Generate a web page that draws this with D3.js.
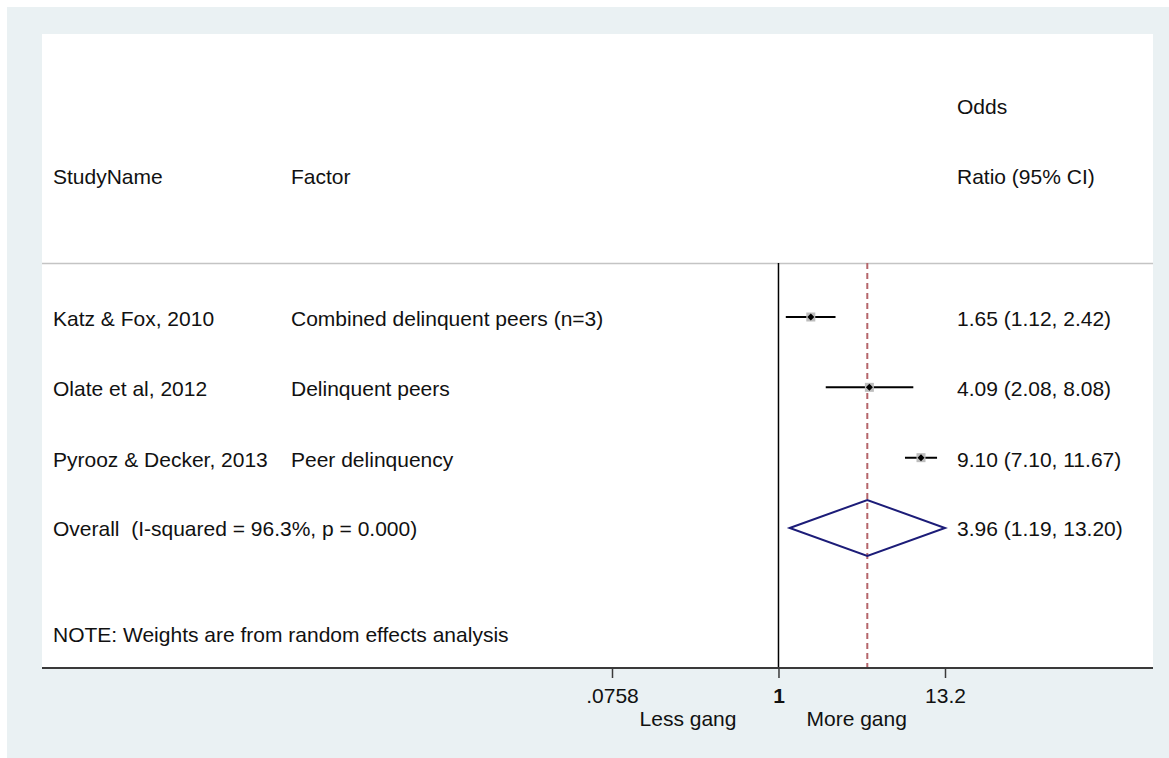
<!DOCTYPE html>
<html><head><meta charset="utf-8">
<script src="https://cdn.jsdelivr.net/npm/d3@7"></script>
<style>
body{margin:0;background:#fff;}
text{font-family:"Liberation Sans",Arial,sans-serif;font-size:21px;fill:#111;white-space:pre;}
</style></head>
<body><svg id="c" width="1169" height="758"></svg>
<script>
const studies = ["Katz & Fox, 2010", "Olate et al, 2012", "Pyrooz & Decker, 2013"];
const factors = ["Combined delinquent peers (n=3)", "Delinquent peers", "Peer delinquency"];
const orVals = [1.65, 4.09, 9.10];
const loVals = [1.12, 2.08, 7.10];
const hiVals = [2.42, 8.08, 11.67];
const overall = {label: "Overall  (I-squared = 96.3%, p = 0.000)", or: 3.96, lo: 1.19, hi: 13.20};
const tickVals = [0.0758, 1, 13.2];
const tickLabels = [".0758", "1", "13.2"];
const note = "NOTE: Weights are from random effects analysis";

const svg = d3.select("#c");
const W = 1169, H = 758;
svg.append("rect").attr("x",7).attr("y",7).attr("width",W-7).attr("height",H-7).attr("fill","#eaf1f3");
const pl = 42, pr = 1153, pt = 34, pb = 668;
svg.append("rect").attr("x",pl).attr("y",pt).attr("width",pr-pl).attr("height",pb-pt).attr("fill","#fff");

const x = d3.scaleLog().domain([0.0758, 13.2]).range([612, 945]);
const rowY = d3.scalePoint().domain([0,1,2,3]).range([317, 528]);

// header
const colStudy = 53, colFactor = 291, colRight = 957;
svg.append("text").attr("x",colStudy).attr("y",184).text("StudyName");
svg.append("text").attr("x",colFactor).attr("y",184).text("Factor");
svg.append("text").attr("x",colRight).attr("y",114).text("Odds");
svg.append("text").attr("x",colRight).attr("y",184).text("Ratio (95% CI)");

// separator
svg.append("line").attr("x1",pl).attr("x2",pr).attr("y1",263.5).attr("y2",263.5).attr("stroke","#c4c4c4").attr("stroke-width",1.5);

// null line
svg.append("line").attr("x1",x(1)).attr("x2",x(1)).attr("y1",263).attr("y2",pb).attr("stroke","#000").attr("stroke-width",1.5);
// overall dashed line
svg.append("line").attr("x1",x(overall.or)).attr("x2",x(overall.or)).attr("y1",263).attr("y2",pb)
  .attr("stroke","#b5666b").attr("stroke-width",2).attr("stroke-dasharray","6,4");

const fmt = d3.format(".2f");
studies.forEach((s,i)=>{
  const y = rowY(i);
  svg.append("text").attr("x",colStudy).attr("y",y+9).text(s);
  svg.append("text").attr("x",colFactor).attr("y",y+9).text(factors[i]);
  svg.append("text").attr("x",colRight).attr("y",y+9).text(`${fmt(orVals[i])} (${fmt(loVals[i])}, ${fmt(hiVals[i])})`);
  svg.append("line").attr("x1",x(loVals[i])).attr("x2",x(hiVals[i])).attr("y1",y).attr("y2",y).attr("stroke","#000").attr("stroke-width",2);
  const cx = x(orVals[i]);
  svg.append("rect").attr("x",cx-4.5).attr("y",y-4.5).attr("width",9).attr("height",9).attr("fill","#bdbdbd");
  svg.append("path").attr("d",`M${cx-3.5},${y}L${cx},${y-3.5}L${cx+3.5},${y}L${cx},${y+3.5}Z`).attr("fill","#000");
});

// overall
const oy = rowY(3);
svg.append("text").attr("x",colStudy).attr("y",oy+8).text(overall.label);
svg.append("text").attr("x",colRight).attr("y",oy+8).text(`${fmt(overall.or)} (${fmt(overall.lo)}, ${fmt(overall.hi)})`);
svg.append("path").attr("d",`M${x(overall.lo)},${oy}L${x(overall.or)},${oy-28}L${x(overall.hi)},${oy}L${x(overall.or)},${oy+28}Z`)
  .attr("fill","none").attr("stroke","#1c1c78").attr("stroke-width",2);

svg.append("text").attr("x",colStudy).attr("y",642).text(note);

// axis
svg.append("line").attr("x1",pl).attr("x2",pr).attr("y1",pb).attr("y2",pb).attr("stroke","#3a3a3a").attr("stroke-width",2);
const ax = svg.append("g").attr("transform",`translate(0,${pb})`)
  .call(d3.axisBottom(x).tickValues(tickVals).tickFormat((d,i)=>tickLabels[i]).tickSize(10).tickPadding(4));
ax.select(".domain").remove();
ax.selectAll(".tick line").attr("stroke","#3a3a3a").attr("stroke-width",1.5);
ax.selectAll(".tick text").attr("dy",null).attr("y",35).attr("font-size",21)
  .style("font-family","'Liberation Sans',Arial,sans-serif").attr("fill","#111")
  .attr("font-weight",(d)=>d===1?"bold":null);

svg.append("text").attr("x",x(1)-42).attr("y",726).attr("text-anchor","end").text("Less gang");
svg.append("text").attr("x",x(1)+28).attr("y",726).text("More gang");
</script></body></html>
